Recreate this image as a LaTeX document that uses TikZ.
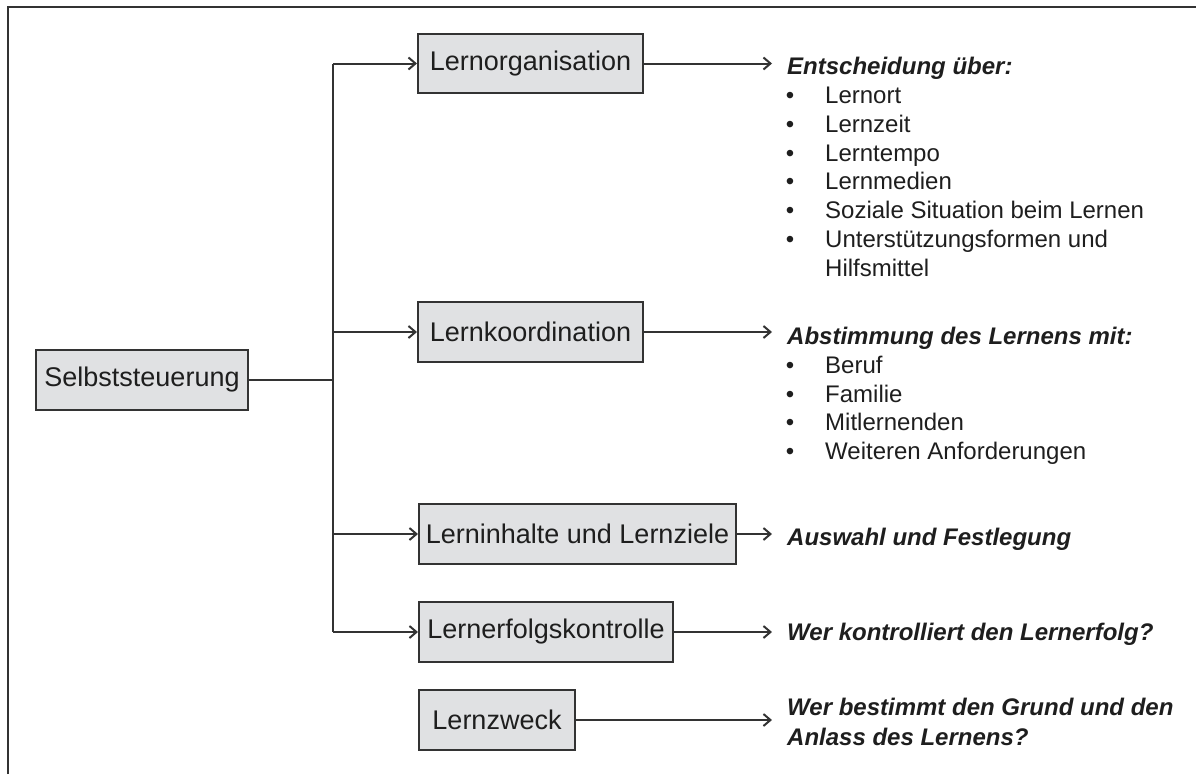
\documentclass[tikz,border=0pt]{standalone}
\usepackage{fontspec}
\setmainfont{Liberation Sans}
\usetikzlibrary{arrows.meta}
\definecolor{ink}{HTML}{1E1E1E}
\definecolor{edge}{HTML}{333333}
\definecolor{boxfill}{HTML}{E0E1E3}
\begin{document}
\begin{tikzpicture}[x=1pt,y=-1pt,
  boxnode/.style={draw=edge, line width=2pt, fill=boxfill, text=ink, font=\fontsize{27}{32}\selectfont, minimum height=60pt, inner sep=0pt, anchor=center},
  link/.style={draw=edge, line width=2pt},
  arr/.style={link, -{Straight Barb[length=7pt,width=12pt,line width=2pt]}},
  head/.style={font=\fontsize{24}{29}\selectfont\bfseries\itshape, text=ink, inner sep=0pt, anchor=base west},
  item/.style={font=\fontsize{24}{29}\selectfont, text=ink, inner sep=0pt, anchor=base west},
  dot/.style={font=\fontsize{24}{29}\selectfont, text=ink, inner sep=0pt, anchor=base},
]
\useasboundingbox (0,0) rectangle (1196,774);
\draw[draw=edge, line width=2.5pt] (8,774) -- (8,7) -- (1196,7);

% boxes
\node[boxnode, minimum width=212pt] (selbst) at (142,380) {Selbststeuerung};
\node[boxnode, minimum width=225pt, minimum height=59pt] (org) at (530.5,63.5) {Lernorganisation};
\node[boxnode, minimum width=225pt] (koord) at (530.5,332) {Lernkoordination};
\node[boxnode, minimum width=317pt] (inhalt) at (577.5,534) {Lerninhalte und Lernziele};
\node[boxnode, minimum width=254pt] (erfolg) at (546,632) {Lernerfolgskontrolle};
\node[boxnode, minimum width=156pt] (zweck) at (497,720) {Lernzweck};

% trunk
\coordinate (top) at (333,63.5);
\coordinate (bot) at (333,632);
\coordinate (tipx) at (772,0);
\draw[link] (selbst.east) -- (selbst.east -| top);
\draw[link] (top) -- (bot);
\draw[arr] (org.west -| top) -- (org.west);
\draw[arr] (koord.west -| top) -- (koord.west);
\draw[arr] (inhalt.west -| top) -- (inhalt.west);
\draw[arr] (erfolg.west -| top) -- (erfolg.west);

% right arrows
\draw[arr] (org.east) -- (org.east -| tipx);
\draw[arr] (koord.east) -- (koord.east -| tipx);
\draw[arr] (inhalt.east) -- (inhalt.east -| tipx);
\draw[arr] (erfolg.east) -- (erfolg.east -| tipx);
\draw[arr] (zweck.east) -- (zweck.east -| tipx);

% texts
\node[head] (h1) at (787,74.5) {Entscheidung über:};
\node[dot] (b1) at (790,103.5) {•};  \node[item] (i1) at (825,103.5) {Lernort};
\node[dot] (b2) at (790,132.3) {•};  \node[item] (i2) at (825,132.3) {Lernzeit};
\node[dot] (b3) at (790,161.1) {•};  \node[item] (i3) at (825,161.1) {Lerntempo};
\node[dot] (b4) at (790,189.9) {•};  \node[item] (i4) at (825,189.9) {Lernmedien};
\node[dot] (b5) at (790,218.7) {•};  \node[item] (i5) at (825,218.7) {Soziale Situation beim Lernen};
\node[dot] (b6) at (790,247.5) {•};  \node[item] (i6) at (825,247.5) {Unterstützungsformen und};
\node[item] (i7) at (825,276.3) {Hilfsmittel};

\node[head] (h2) at (787,344.5) {Abstimmung des Lernens mit:};
\node[dot] (c1) at (790,373.3) {•};  \node[item] (j1) at (825,373.3) {Beruf};
\node[dot] (c2) at (790,402.1) {•};  \node[item] (j2) at (825,402.1) {Familie};
\node[dot] (c3) at (790,430.9) {•};  \node[item] (j3) at (825,430.9) {Mitlernenden};
\node[dot] (c4) at (790,459.7) {•};  \node[item] (j4) at (825,459.7) {Weiteren Anforderungen};

\node[head] (h3) at (787,545) {Auswahl und Festlegung};
\node[head] (h4) at (787,640) {Wer kontrolliert den Lernerfolg?};
\node[head] (h5) at (787,715) {Wer bestimmt den Grund und den};
\node[head] (h6) at (787,745) {Anlass des Lernens?};
\end{tikzpicture}
\end{document}
